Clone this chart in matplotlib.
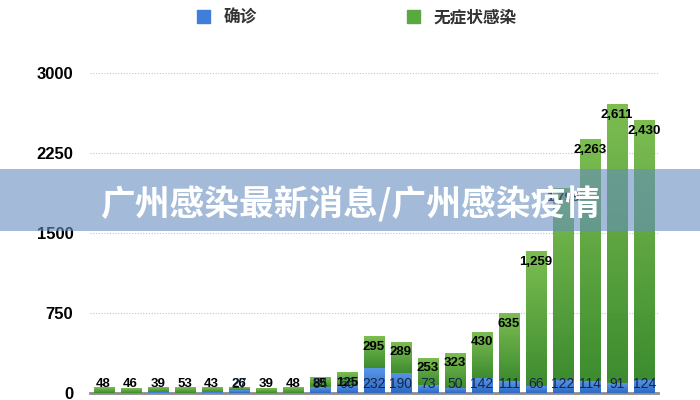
import numpy as np
import matplotlib
matplotlib.use("Agg")
import matplotlib.pyplot as plt
from matplotlib.colors import LinearSegmentedColormap
from matplotlib.patches import Patch, Rectangle

plt.rcParams["font.family"] = ["Liberation Sans", "Noto Sans CJK SC", "DejaVu Sans"]

days = [f"D{i}" for i in range(1, 22)]
confirmed = [2, 2, 5, 2, 8, 27, 2, 3, 54, 66, 232, 190, 73, 50, 142, 111, 66, 122, 114, 91, 124]
asymptomatic = [48, 46, 39, 53, 43, 26, 39, 48, 85, 125, 295, 289, 253, 323, 430, 635,
                1259, 1798, 2263, 2611, 2430]
yticks = [0, 750, 1500, 2250, 3000]

blue_cmap = LinearSegmentedColormap.from_list("b", ["#2d68c4", "#5a96e6"])
green_cmap = LinearSegmentedColormap.from_list("g", ["#3d8c2f", "#7cbd52"])

fig = plt.figure(figsize=(7, 4), dpi=100)
ax = fig.add_axes([0.1286, 0.0175, 0.811, 0.8])

x = np.arange(len(days))
conf = np.array(confirmed)
asym = np.array(asymptomatic)
b1 = ax.bar(x, conf, width=0.74, color="#4a86d8", zorder=2)
b2 = ax.bar(x, asym, bottom=conf, width=0.74, color="#5aa640", zorder=2)

# vertical gradient on every segment
grad = np.linspace(0, 1, 64).reshape(-1, 1)
for bars, cmap in ((b1, blue_cmap), (b2, green_cmap)):
    for p in bars:
        x0, y0, w, h = p.get_x(), p.get_y(), p.get_width(), p.get_height()
        ax.imshow(grad, extent=[x0, x0 + w, y0, y0 + h], origin="lower",
                  aspect="auto", cmap=cmap, zorder=3)

# value labels
for i in range(len(days)):
    total = conf[i] + asym[i]
    ax.text(x[i], max(total - 95, 80), f"{asym[i]:,}", ha="center", va="center",
            fontsize=9.5, fontweight="bold", color="black", zorder=5)
    if conf[i] >= 20:
        ax.text(x[i], 80, f"{conf[i]}", ha="center", va="center",
                fontsize=10, color="#16254a", zorder=5)

ax.set_xlim(-0.5, len(days) - 0.5)
ax.set_ylim(0, 3000)
ax.set_yticks(yticks)
ax.set_yticklabels([str(t) for t in yticks], fontsize=12, fontweight="bold")
ax.set_xticks([])
ax.tick_params(axis="y", length=0, pad=12)
for t in yticks[1:]:
    ax.axhline(t, color="#c4c4c4", linestyle=(0, (1, 1.5)), linewidth=0.8, zorder=1)
for s in ["top", "right", "left"]:
    ax.spines[s].set_visible(False)
ax.spines["bottom"].set_color("#8c8c8c")
ax.spines["bottom"].set_linewidth(2)

handles = [Patch(color="#3f7fd9", label="确诊"), Patch(color="#5aa840", label="无症状感染")]
leg = fig.legend(handles=handles, loc="center", bbox_to_anchor=(0.51, 0.957), ncol=2,
                 frameon=False, columnspacing=9, handlelength=0.8, handleheight=0.8,
                 handletextpad=0.8, prop={"family": ["Noto Sans CJK SC"], "size": 12,
                                          "weight": "bold"})
for t in leg.get_texts():
    t.set_color("#333333")

# overlay banner
fig.patches.append(Rectangle((0, 0.4225), 1, 0.155, transform=fig.transFigure,
                             color="#668ebe", alpha=0.6, zorder=10, linewidth=0))
fig.text(0.5, 0.49, "广州感染最新消息/广州感染疫情", ha="center", va="center",
         fontsize=25, fontweight="bold", color="white", family=["Noto Sans CJK SC"],
         zorder=11)

fig.savefig("out.png", dpi=100)
